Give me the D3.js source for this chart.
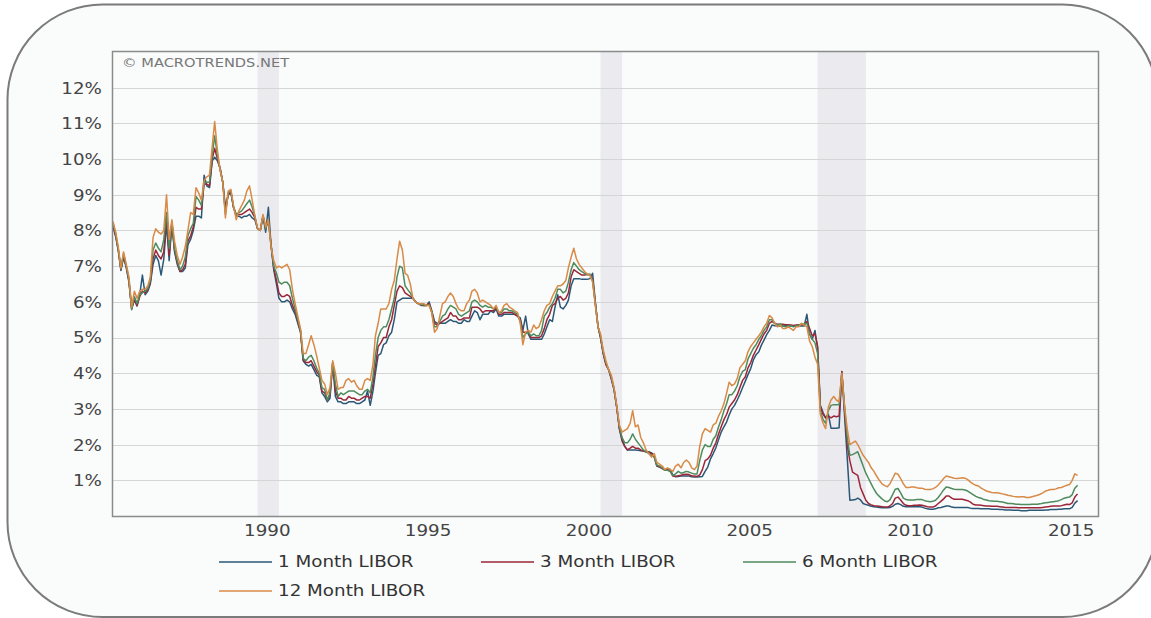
<!DOCTYPE html>
<html>
<head>
<meta charset="utf-8">
<script src="https://cdn.jsdelivr.net/npm/d3@7"></script>
<style>
  html, body { margin: 0; padding: 0; background: #fff; }
  svg { display: block; }
</style>
</head>
<body>
<div id="chart"></div>
<script>
// monthly USD LIBOR (%), Jan 1986 .. Jan 2016, one row per year
const libor1m = [
  8.10, 7.82, 7.45, 6.88, 7.25, 6.95, 6.55, 5.82, 6.05, 5.88, 6.20, 6.75,
  6.20, 6.30, 6.50, 7.05, 7.30, 7.15, 6.75, 7.20, 8.20, 7.15, 8.20, 7.40,
  7.05, 6.85, 6.85, 6.95, 7.60, 7.75, 8.00, 8.40, 8.40, 8.35, 9.55, 9.25,
  9.20, 9.95, 10.05, 9.95, 9.75, 9.35, 8.65, 9.00, 9.05, 8.65, 8.40, 8.40,
  8.35, 8.40, 8.40, 8.45, 8.35, 8.30, 8.05, 8.00, 8.40, 7.95, 8.65, 7.60,
  6.90, 6.50, 6.10, 6.00, 6.00, 6.05, 6.00, 5.80, 5.65, 5.40, 5.15, 4.35,
  4.25, 4.20, 4.25, 4.10, 3.95, 3.90, 3.45, 3.35, 3.20, 3.30, 4.30, 3.35,
  3.20, 3.20, 3.15, 3.15, 3.20, 3.20, 3.20, 3.15, 3.15, 3.20, 3.25, 3.50,
  3.10, 3.50, 4.00, 4.50, 4.55, 4.80, 4.85, 5.05, 5.15, 5.50, 6.00, 6.05,
  6.10, 6.10, 6.10, 6.10, 6.10, 6.00, 5.95, 5.90, 5.90, 5.90, 6.00, 5.75,
  5.45, 5.40, 5.40, 5.40, 5.40, 5.45, 5.50, 5.45, 5.45, 5.40, 5.40, 5.50,
  5.45, 5.45, 5.60, 5.75, 5.70, 5.50, 5.65, 5.65, 5.65, 5.75, 5.70, 5.80,
  5.60, 5.60, 5.65, 5.65, 5.65, 5.65, 5.65, 5.60, 5.55, 5.20, 5.60, 5.10,
  4.95, 4.95, 4.95, 4.95, 4.95, 5.10, 5.30, 5.50, 5.45, 5.85, 6.20, 5.85,
  5.80, 5.90, 6.05, 6.45, 6.65, 6.65, 6.65, 6.63, 6.63, 6.63, 6.65, 6.80,
  6.00, 5.30, 5.00, 4.55, 4.25, 4.10, 3.85, 3.55, 3.05, 2.45, 2.10, 1.95,
  1.85, 1.85, 1.85, 1.85, 1.84, 1.83, 1.82, 1.80, 1.80, 1.77, 1.70, 1.40,
  1.37, 1.33, 1.30, 1.30, 1.31, 1.15, 1.10, 1.11, 1.12, 1.12, 1.12, 1.12,
  1.10, 1.09, 1.09, 1.10, 1.11, 1.25, 1.37, 1.60, 1.75, 1.91, 2.14, 2.35,
  2.50, 2.64, 2.83, 3.00, 3.10, 3.25, 3.41, 3.60, 3.78, 3.96, 4.13, 4.37,
  4.52, 4.60, 4.78, 4.93, 5.08, 5.20, 5.35, 5.33, 5.32, 5.32, 5.32, 5.35,
  5.32, 5.32, 5.32, 5.32, 5.32, 5.32, 5.32, 5.65, 5.10, 4.95, 5.20, 4.70,
  3.10, 2.90, 2.75, 2.85, 2.46, 2.46, 2.46, 2.47, 4.05, 2.85, 1.65, 0.44,
  0.45, 0.46, 0.50, 0.45, 0.35, 0.32, 0.30, 0.27, 0.26, 0.25, 0.24, 0.23,
  0.23, 0.23, 0.24, 0.27, 0.33, 0.35, 0.32, 0.27, 0.26, 0.26, 0.26, 0.26,
  0.26, 0.26, 0.25, 0.22, 0.20, 0.19, 0.19, 0.20, 0.23, 0.24, 0.26, 0.28,
  0.28, 0.25, 0.24, 0.24, 0.24, 0.24, 0.24, 0.24, 0.22, 0.21, 0.21, 0.21,
  0.20, 0.20, 0.20, 0.20, 0.19, 0.19, 0.19, 0.18, 0.18, 0.17, 0.17, 0.17,
  0.16, 0.16, 0.16, 0.15, 0.15, 0.15, 0.16, 0.16, 0.16, 0.16, 0.16, 0.16,
  0.17, 0.17, 0.18, 0.18, 0.18, 0.19, 0.19, 0.20, 0.20, 0.20, 0.24, 0.36,
  0.43
];

const libor3m = [
  8.15, 7.85, 7.48, 6.90, 7.30, 6.98, 6.60, 5.80, 6.08, 5.90, 6.15, 6.30,
  6.25, 6.35, 6.55, 7.20, 7.45, 7.30, 7.20, 7.40, 8.40, 7.30, 8.20, 7.45,
  7.10, 6.85, 6.90, 7.05, 7.70, 7.85, 8.10, 8.65, 8.60, 8.60, 9.30, 9.30,
  9.25, 10.00, 10.30, 10.00, 9.75, 9.35, 8.55, 9.00, 9.10, 8.65, 8.45, 8.45,
  8.45, 8.50, 8.55, 8.60, 8.50, 8.35, 8.05, 8.00, 8.40, 8.05, 8.30, 7.60,
  6.95, 6.60, 6.25, 6.15, 6.15, 6.20, 6.15, 5.90, 5.72, 5.45, 5.18, 4.38,
  4.30, 4.30, 4.35, 4.20, 4.05, 3.95, 3.50, 3.45, 3.25, 3.40, 4.30, 3.50,
  3.30, 3.30, 3.25, 3.25, 3.35, 3.30, 3.30, 3.25, 3.25, 3.30, 3.35, 3.35,
  3.30, 3.70, 4.20, 4.75, 4.85, 5.00, 5.00, 5.30, 5.50, 5.90, 6.30, 6.45,
  6.40, 6.25, 6.20, 6.15, 6.10, 6.00, 5.95, 5.92, 5.90, 5.90, 5.95, 5.72,
  5.40, 5.35, 5.40, 5.45, 5.50, 5.55, 5.70, 5.60, 5.60, 5.50, 5.50, 5.55,
  5.55, 5.55, 5.85, 5.85, 5.85, 5.80, 5.70, 5.75, 5.75, 5.75, 5.75, 5.85,
  5.65, 5.65, 5.70, 5.70, 5.70, 5.70, 5.65, 5.60, 5.50, 5.15, 5.15, 5.15,
  5.00, 5.00, 5.00, 5.00, 5.05, 5.25, 5.50, 5.65, 5.90, 5.95, 6.10, 6.15,
  6.05, 6.10, 6.25, 6.70, 6.90, 6.85, 6.80, 6.75, 6.75, 6.77, 6.75, 6.65,
  5.95, 5.30, 5.00, 4.55, 4.25, 4.10, 3.85, 3.55, 3.05, 2.45, 2.15, 1.95,
  1.85, 1.90, 1.95, 1.90, 1.90, 1.85, 1.82, 1.80, 1.78, 1.75, 1.65, 1.40,
  1.38, 1.34, 1.28, 1.29, 1.26, 1.12, 1.11, 1.13, 1.14, 1.16, 1.17, 1.16,
  1.12, 1.12, 1.11, 1.15, 1.30, 1.55, 1.60, 1.70, 1.90, 2.05, 2.30, 2.50,
  2.70, 2.85, 3.05, 3.15, 3.25, 3.40, 3.60, 3.80, 3.90, 4.15, 4.30, 4.50,
  4.65, 4.80, 4.95, 5.10, 5.20, 5.40, 5.45, 5.40, 5.37, 5.37, 5.37, 5.36,
  5.36, 5.35, 5.34, 5.35, 5.36, 5.36, 5.36, 5.45, 5.25, 5.05, 5.10, 4.75,
  3.05, 2.85, 2.75, 2.80, 2.75, 2.80, 2.78, 2.80, 4.05, 3.00, 2.00, 1.55,
  1.23, 1.18, 1.14, 0.80, 0.62, 0.44, 0.35, 0.31, 0.29, 0.28, 0.27, 0.26,
  0.25, 0.25, 0.28, 0.35, 0.50, 0.53, 0.45, 0.35, 0.30, 0.29, 0.29, 0.30,
  0.30, 0.31, 0.30, 0.28, 0.26, 0.25, 0.25, 0.28, 0.35, 0.41, 0.48, 0.56,
  0.56, 0.50, 0.47, 0.47, 0.47, 0.47, 0.45, 0.43, 0.39, 0.33, 0.31, 0.31,
  0.30, 0.29, 0.28, 0.28, 0.27, 0.27, 0.27, 0.26, 0.25, 0.24, 0.24, 0.24,
  0.24, 0.24, 0.23, 0.23, 0.23, 0.23, 0.23, 0.23, 0.23, 0.23, 0.23, 0.24,
  0.25, 0.26, 0.27, 0.28, 0.28, 0.28, 0.29, 0.31, 0.33, 0.32, 0.37, 0.53,
  0.62
];

const libor6m = [
  8.20, 7.90, 7.50, 6.92, 7.35, 7.00, 6.62, 5.78, 6.15, 5.95, 6.20, 6.25,
  6.30, 6.38, 6.60, 7.45, 7.65, 7.50, 7.40, 7.75, 8.50, 7.50, 8.25, 7.50,
  7.15, 6.90, 7.00, 7.25, 7.85, 8.05, 8.20, 8.95, 8.85, 8.70, 9.35, 9.35,
  9.35, 10.10, 10.65, 10.10, 9.72, 9.35, 8.45, 9.05, 9.10, 8.65, 8.45, 8.50,
  8.55, 8.65, 8.75, 8.85, 8.65, 8.40, 8.05, 8.00, 8.42, 8.05, 8.30, 7.60,
  7.00, 6.80, 6.55, 6.50, 6.55, 6.55, 6.45, 6.10, 5.80, 5.50, 5.20, 4.42,
  4.35, 4.45, 4.50, 4.35, 4.15, 4.00, 3.60, 3.55, 3.25, 3.45, 4.30, 3.70,
  3.35, 3.45, 3.40, 3.45, 3.50, 3.50, 3.50, 3.45, 3.40, 3.40, 3.50, 3.55,
  3.45, 3.90, 4.50, 5.00, 5.20, 5.30, 5.30, 5.50, 5.80, 6.10, 6.70, 7.00,
  6.95, 6.45, 6.35, 6.25, 6.10, 6.00, 5.95, 5.92, 5.92, 5.90, 5.92, 5.70,
  5.30, 5.30, 5.45, 5.60, 5.65, 5.80, 5.90, 5.85, 5.80, 5.65, 5.60, 5.65,
  5.70, 5.75, 6.00, 6.05, 6.00, 5.90, 5.85, 5.90, 5.85, 5.85, 5.80, 5.85,
  5.70, 5.70, 5.80, 5.80, 5.75, 5.75, 5.70, 5.65, 5.45, 5.00, 5.10, 5.15,
  5.05, 5.10, 5.05, 5.05, 5.20, 5.60, 5.70, 5.85, 5.95, 6.10, 6.35, 6.35,
  6.25, 6.30, 6.55, 6.90, 7.10, 7.00, 6.90, 6.85, 6.80, 6.76, 6.78, 6.60,
  5.95, 5.30, 5.05, 4.60, 4.30, 4.10, 3.90, 3.58, 3.07, 2.50, 2.20, 2.05,
  2.05, 2.15, 2.30, 2.15, 2.05, 1.95, 1.85, 1.80, 1.75, 1.70, 1.65, 1.42,
  1.40, 1.35, 1.28, 1.28, 1.25, 1.13, 1.18, 1.25, 1.20, 1.22, 1.25, 1.23,
  1.20, 1.18, 1.18, 1.55, 1.85, 2.00, 1.95, 1.95, 2.15, 2.25, 2.50, 2.70,
  2.95, 3.15, 3.40, 3.40, 3.50, 3.65, 3.90, 4.05, 4.10, 4.40, 4.55, 4.70,
  4.80, 4.95, 5.05, 5.20, 5.30, 5.50, 5.50, 5.40, 5.35, 5.38, 5.33, 5.30,
  5.33, 5.33, 5.30, 5.33, 5.35, 5.38, 5.38, 5.40, 5.10, 4.95, 4.85, 4.55,
  2.95, 2.70, 2.60, 2.95, 3.10, 3.12, 3.12, 3.12, 4.00, 3.10, 2.20, 1.70,
  1.72, 1.76, 1.80, 1.60, 1.40, 1.20, 1.05, 0.90, 0.75, 0.63, 0.55, 0.48,
  0.42, 0.40, 0.45, 0.60, 0.75, 0.77, 0.65, 0.50, 0.46, 0.45, 0.45, 0.45,
  0.46, 0.46, 0.46, 0.43, 0.41, 0.40, 0.41, 0.44, 0.52, 0.62, 0.73, 0.81,
  0.80, 0.77, 0.75, 0.74, 0.74, 0.74, 0.73, 0.70, 0.65, 0.60, 0.55, 0.52,
  0.50, 0.46, 0.45, 0.43, 0.42, 0.41, 0.41, 0.40, 0.39, 0.37, 0.35, 0.35,
  0.34, 0.33, 0.33, 0.32, 0.32, 0.32, 0.32, 0.33, 0.33, 0.33, 0.34, 0.36,
  0.37, 0.38, 0.39, 0.40, 0.41, 0.43, 0.46, 0.50, 0.52, 0.53, 0.60, 0.78,
  0.86
];

const libor12m = [
  8.25, 7.95, 7.55, 6.95, 7.40, 7.05, 6.70, 5.85, 6.30, 6.10, 6.30, 6.35,
  6.35, 6.45, 6.70, 7.80, 8.05, 7.95, 7.90, 8.00, 9.00, 7.75, 8.30, 7.70,
  7.30, 7.05, 7.25, 7.55, 8.00, 8.50, 8.45, 9.20, 9.05, 8.85, 9.40, 9.50,
  9.55, 10.35, 11.05, 10.25, 9.70, 9.35, 8.35, 9.10, 9.15, 8.70, 8.30, 8.55,
  8.70, 8.85, 9.10, 9.25, 8.85, 8.40, 8.05, 8.00, 8.45, 8.10, 8.30, 7.55,
  7.15, 6.95, 7.00, 6.95, 7.00, 7.05, 6.90, 6.35, 5.95, 5.60, 5.25, 4.55,
  4.55, 4.80, 5.05, 4.80, 4.50, 4.15, 3.80, 3.70, 3.40, 3.60, 4.35, 4.00,
  3.55, 3.60, 3.60, 3.80, 3.85, 3.75, 3.80, 3.65, 3.55, 3.55, 3.80, 3.85,
  3.80, 4.25, 5.05, 5.40, 5.80, 5.80, 5.80, 5.95, 6.35, 6.60, 7.20, 7.70,
  7.45, 6.80, 6.75, 6.50, 6.10, 6.00, 5.95, 5.95, 5.95, 5.90, 5.90, 5.70,
  5.15, 5.25, 5.60, 5.95, 6.00, 6.15, 6.25, 6.15, 5.95, 5.80, 5.75, 5.75,
  5.95, 6.05, 6.30, 6.35, 6.25, 6.00, 6.05, 6.00, 5.95, 5.90, 5.80, 5.90,
  5.70, 5.75, 5.90, 5.95, 5.85, 5.80, 5.75, 5.70, 5.40, 4.80, 5.15, 5.20,
  5.15, 5.35, 5.25, 5.30, 5.50, 5.75, 5.90, 5.95, 6.15, 6.30, 6.45, 6.45,
  6.50, 6.60, 6.95, 7.25, 7.50, 7.20, 7.05, 6.95, 6.85, 6.78, 6.75, 6.55,
  5.90, 5.30, 5.10, 4.65, 4.35, 4.10, 3.95, 3.60, 3.10, 2.55, 2.35, 2.40,
  2.45, 2.60, 2.95, 2.50, 2.55, 2.20, 2.05, 1.85, 1.75, 1.65, 1.75, 1.50,
  1.45, 1.40, 1.30, 1.35, 1.30, 1.25, 1.40, 1.45, 1.35, 1.50, 1.57, 1.50,
  1.35, 1.30, 1.40, 1.95, 2.30, 2.45, 2.40, 2.35, 2.55, 2.60, 2.80, 2.95,
  3.15, 3.45, 3.75, 3.65, 3.70, 3.85, 4.15, 4.25, 4.35, 4.60, 4.75, 4.85,
  4.95, 5.05, 5.15, 5.30, 5.40, 5.62, 5.55, 5.40, 5.30, 5.35, 5.25, 5.25,
  5.30, 5.25, 5.20, 5.30, 5.30, 5.40, 5.35, 5.30, 4.90, 4.75, 4.45, 4.25,
  2.85, 2.60, 2.45, 3.05, 3.25, 3.35, 3.25, 3.20, 4.00, 3.10, 2.45, 2.00,
  2.05, 2.10, 2.00, 1.85, 1.70, 1.60, 1.50, 1.35, 1.25, 1.12, 1.00, 0.90,
  0.85, 0.82, 0.90, 1.05, 1.20, 1.17, 1.05, 0.90, 0.80, 0.80, 0.81, 0.81,
  0.79, 0.78, 0.78, 0.75, 0.74, 0.74, 0.76, 0.80, 0.87, 0.95, 1.05, 1.12,
  1.10, 1.08, 1.06, 1.05, 1.06, 1.07, 1.06, 1.02, 0.95, 0.90, 0.86, 0.84,
  0.78, 0.74, 0.70, 0.68, 0.66, 0.65, 0.65, 0.64, 0.62, 0.60, 0.58, 0.57,
  0.55, 0.54, 0.53, 0.54, 0.54, 0.52, 0.52, 0.54, 0.56, 0.58, 0.61, 0.65,
  0.70, 0.72, 0.74, 0.74, 0.76, 0.79, 0.80, 0.83, 0.86, 0.88, 1.00, 1.18,
  1.14
];

const seriesNames = ['1 Month LIBOR', '3 Month LIBOR', '6 Month LIBOR', '12 Month LIBOR'];
const seriesColors = ['#2b5877', '#9c2638', '#4e8b5d', '#d88a46'];

// NBER recessions shaded in the chart
const recessions = [
  ['1990-07-01', '1991-03-01'],
  ['2001-03-01', '2001-11-01'],
  ['2007-12-01', '2009-06-01']
];

const yTicks = [1, 2, 3, 4, 5, 6, 7, 8, 9, 10, 11, 12];
const xTickYears = [1990, 1995, 2000, 2005, 2010, 2015];

const width = 1151, height = 618;
const margin = { top: 52, right: 53, bottom: 102, left: 113 };
const FONT = '"DejaVu Sans", Verdana, sans-serif';
const SX = 1.22;   // the source image is stretched horizontally

const months = d3.utcMonth.range(new Date(Date.UTC(1986, 0, 1)), new Date(Date.UTC(2016, 1, 1)));
const series = [libor1m, libor3m, libor6m, libor12m];

const svg = d3.select('#chart')
  .append('svg')
  .attr('width', width)
  .attr('height', height);

// outer rounded panel
svg.append('rect')
  .attr('x', 7.5)
  .attr('y', 4.5)
  .attr('width', 1150)
  .attr('height', 612.5)
  .attr('rx', 95)
  .attr('fill', '#fafbfb')
  .attr('stroke', '#7b7b7b')
  .attr('stroke-width', 2);

const x = d3.scaleUtc()
  .domain([new Date(Date.UTC(1986, 0, 1)), new Date(Date.UTC(2016, 7, 20))])
  .range([margin.left, width - margin.right]);

const y = d3.scaleLinear()
  .domain([0, 13])
  .range([height - margin.bottom, margin.top]);

const parse = d3.utcParse('%Y-%m-%d');

svg.append('g')
  .selectAll('rect')
  .data(recessions)
  .join('rect')
    .attr('x', d => x(parse(d[0])))
    .attr('width', d => x(parse(d[1])) - x(parse(d[0])))
    .attr('y', margin.top)
    .attr('height', y(0) - margin.top)
    .attr('fill', '#ebebef');

// gridlines
svg.append('g')
  .selectAll('line')
  .data(yTicks)
  .join('line')
    .attr('x1', margin.left)
    .attr('x2', width - margin.right)
    .attr('y1', d => Math.round(y(d)) + 0.5)
    .attr('y2', d => Math.round(y(d)) + 0.5)
    .attr('stroke', '#d5d5d5')
    .attr('stroke-width', 1);

let yAxis = g => g
  .attr('transform', `translate(${margin.left},0)`)
  .call(d3.axisLeft(y).tickValues(yTicks).tickSize(0).tickFormat(d => d + '%'))
  .call(g => g.select('.domain').remove())
  .attr('font-family', FONT)
  .attr('font-size', 15)
  .call(g => g.selectAll('text')
    .attr('x', null)
    .attr('dy', '0.36em')
    .attr('fill', '#444')
    .attr('transform', `translate(-11,0) scale(${SX},1)`));

let xAxis = g => g
  .attr('transform', `translate(0,${height - margin.bottom})`)
  .call(d3.axisBottom(x)
    .tickValues(xTickYears.map(yr => new Date(Date.UTC(yr, 9, 15))))
    .tickSize(0)
    .tickFormat(d3.utcFormat('%Y')))
  .call(g => g.select('.domain').remove())
  .attr('font-family', FONT)
  .attr('font-size', 15)
  .call(g => g.selectAll('text')
    .attr('y', null)
    .attr('dy', null)
    .attr('fill', '#444')
    .attr('transform', `translate(0,20) scale(${SX},1)`));

svg.append('g').call(yAxis);
svg.append('g').call(xAxis);

const myLine = d3.line()
  .x((d, i) => x(months[i]))
  .y(d => y(d));

svg.append('g')
  .attr('fill', 'none')
  .attr('stroke-width', 1.5)
  .attr('stroke-linejoin', 'round')
  .selectAll('path')
  .data(series)
  .join('path')
    .attr('stroke', (d, i) => seriesColors[i])
    .attr('d', d => myLine(d));

// plot frame
svg.append('rect')
  .attr('x', margin.left - 0.5)
  .attr('y', margin.top - 0.5)
  .attr('width', width - margin.right - margin.left + 1)
  .attr('height', y(0) - margin.top + 1)
  .attr('fill', 'none')
  .attr('stroke', '#8a8a8a')
  .attr('stroke-width', 1.5);

svg.append('text')
  .attr('transform', `translate(122,66.5) scale(${SX},1)`)
  .attr('font-family', FONT)
  .attr('font-size', 12)
  .attr('fill', '#777')
  .text('© MACROTRENDS.NET');

// legend: three per row
const legend = svg.append('g')
  .attr('font-family', FONT)
  .attr('font-size', 15)
  .selectAll('g')
  .data(seriesNames)
  .join('g')
    .attr('transform', (d, i) => `translate(${219 + (i % 3) * 262},${562 + Math.floor(i / 3) * 29})`);

legend.append('line')
  .attr('x1', 0)
  .attr('x2', 53)
  .attr('stroke', (d, i) => seriesColors[i])
  .attr('stroke-width', 1.5);

legend.append('text')
  .attr('dy', '0.36em')
  .attr('fill', '#333')
  .attr('transform', `translate(59,0) scale(${SX},1)`)
  .text(d => d);
</script>
</body>
</html>
